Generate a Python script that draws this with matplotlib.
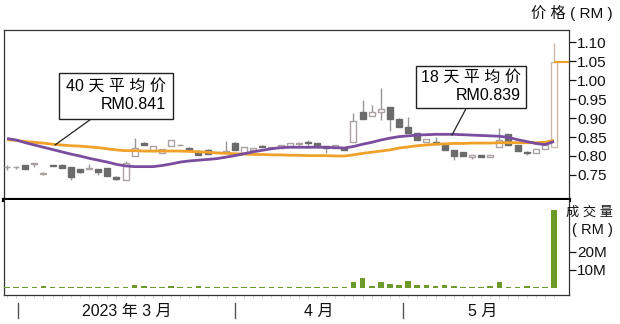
import matplotlib
matplotlib.use('Agg')
import matplotlib.pyplot as plt
import matplotlib.transforms as mtransforms
import numpy as np

plt.rcParams['font.family'] = ['Liberation Sans', 'Noto Sans CJK SC', 'DejaVu Sans']

# ---------------- data ----------------
opens = [0.770, 0.770, 0.775, 0.780, 0.753, 0.775, 0.776, 0.772, 0.766, 0.765,
         0.767, 0.769, 0.745, 0.736, 0.801, 0.833, 0.814, 0.807, 0.825, 0.829,
         0.822, 0.814, 0.816, 0.810, 0.810, 0.834, 0.808, 0.816, 0.827, 0.821,
         0.820, 0.825, 0.832, 0.838, 0.833, 0.826, 0.820, 0.822, 0.836, 0.917,
         0.906, 0.917, 0.928, 0.897, 0.877, 0.860, 0.838, 0.838, 0.829, 0.816,
         0.811, 0.797, 0.803, 0.797, 0.823, 0.857, 0.829, 0.811, 0.807, 0.818,
         0.824]
highs = [0.776, 0.774, 0.777, 0.782, 0.757, 0.776, 0.778, 0.772, 0.766, 0.778,
         0.767, 0.769, 0.747, 0.788, 0.847, 0.836, 0.826, 0.818, 0.842, 0.831,
         0.823, 0.816, 0.818, 0.811, 0.839, 0.836, 0.823, 0.822, 0.828, 0.823,
         0.829, 0.833, 0.838, 0.841, 0.833, 0.826, 0.829, 0.822, 0.912, 0.947,
         0.934, 0.978, 0.928, 0.900, 0.902, 0.860, 0.844, 0.850, 0.829, 0.816,
         0.811, 0.803, 0.803, 0.803, 0.874, 0.857, 0.829, 0.814, 0.818, 0.829,
         1.098]
lows = [0.763, 0.766, 0.765, 0.770, 0.749, 0.774, 0.768, 0.737, 0.756, 0.765,
        0.750, 0.748, 0.737, 0.736, 0.801, 0.829, 0.814, 0.807, 0.825, 0.829,
        0.816, 0.803, 0.805, 0.809, 0.808, 0.815, 0.808, 0.816, 0.823, 0.821,
        0.820, 0.825, 0.826, 0.820, 0.826, 0.808, 0.820, 0.816, 0.836, 0.897,
        0.906, 0.895, 0.865, 0.877, 0.860, 0.842, 0.838, 0.832, 0.816, 0.789,
        0.800, 0.793, 0.798, 0.797, 0.823, 0.829, 0.814, 0.803, 0.807, 0.818,
        0.824]
closes = [0.770, 0.771, 0.765, 0.782, 0.754, 0.774, 0.768, 0.745, 0.758, 0.769,
          0.758, 0.748, 0.740, 0.782, 0.820, 0.829, 0.826, 0.818, 0.842, 0.829,
          0.816, 0.803, 0.805, 0.810, 0.812, 0.815, 0.823, 0.822, 0.823, 0.823,
          0.829, 0.833, 0.833, 0.833, 0.826, 0.820, 0.829, 0.816, 0.893, 0.897,
          0.917, 0.924, 0.897, 0.877, 0.860, 0.842, 0.844, 0.832, 0.816, 0.800,
          0.800, 0.803, 0.798, 0.803, 0.842, 0.829, 0.814, 0.807, 0.818, 0.829,
          1.048]
ma18 = [0.846, 0.842, 0.835, 0.829, 0.823, 0.817, 0.811, 0.805, 0.800, 0.794,
        0.789, 0.784, 0.778, 0.774, 0.772, 0.772, 0.772, 0.775, 0.779, 0.784,
        0.787, 0.789, 0.791, 0.793, 0.797, 0.801, 0.806, 0.811, 0.815, 0.819,
        0.822, 0.823, 0.823, 0.823, 0.823, 0.823, 0.822, 0.821, 0.825, 0.831,
        0.836, 0.842, 0.847, 0.851, 0.853, 0.855, 0.856, 0.857, 0.857, 0.857,
        0.856, 0.855, 0.854, 0.853, 0.852, 0.849, 0.843, 0.838, 0.833, 0.830,
        0.838]
ma40 = [0.843, 0.841, 0.838, 0.836, 0.834, 0.831, 0.829, 0.827, 0.826, 0.824,
        0.822, 0.819, 0.816, 0.814, 0.814, 0.813, 0.813, 0.813, 0.813, 0.813,
        0.812, 0.811, 0.810, 0.808, 0.807, 0.806, 0.805, 0.804, 0.804, 0.803,
        0.803, 0.802, 0.802, 0.801, 0.801, 0.801, 0.800, 0.800, 0.803, 0.807,
        0.810, 0.813, 0.816, 0.821, 0.824, 0.827, 0.829, 0.831, 0.832, 0.833,
        0.833, 0.834, 0.834, 0.834, 0.835, 0.835, 0.835, 0.835, 0.835, 0.836,
        0.841]
volume_m = [0.6, 0.6, 0.6, 0.8, 1.1, 0.6, 0.6, 0.7, 0.6, 0.6,
            0.8, 0.8, 0.9, 0.8, 1.8, 1.1, 0.7, 0.8, 1.0, 0.7,
            0.8, 1.0, 0.9, 0.7, 0.8, 0.8, 0.9, 0.7, 0.8, 0.7,
            0.8, 0.7, 0.7, 0.8, 0.7, 0.7, 0.8, 0.9, 3.6, 5.6,
            1.1, 3.6, 2.4, 1.5, 4.2, 1.8, 1.5, 1.1, 1.6, 1.1,
            0.8, 0.7, 0.8, 1.1, 3.3, 0.9, 0.7, 1.1, 0.7, 0.7,
            43.0]
month_labels = ['2023 年 3 月', '4 月', '5 月']
month_starts = [1.2, 25.0, 43.4]
price_ticks = [0.75, 0.80, 0.85, 0.90, 0.95, 1.00, 1.05, 1.10]
vol_ticks = [10, 20]
ma18_label = '18 天 平 均 价\nRM0.839'
ma40_label = '40 天 平 均 价\nRM0.841'

# ---------------- style ----------------
W, H = 620, 324
fig = plt.figure(figsize=(W / 100, H / 100), dpi=100)
px = lambda v: v / W
py = lambda v: 1 - v / H

ax = fig.add_axes([px(4), py(200), px(569) - px(4), py(30) - py(200)])
axv = fig.add_axes([px(4), py(295), px(569) - px(4), py(200) - py(295)], sharex=ax)

UP_EDGE = '#aaa2a0'
LAST_EDGE = '#c9b8ae'
DOWN = '#6b6b6b'
WICK = '#9a9696'
ORANGE = '#f0a12a'
PURPLE = '#7a4d9f'
GREEN = '#6c9b2b'

x = np.arange(len(closes))
o = np.array(opens); c = np.array(closes); h = np.array(highs); l = np.array(lows)
up = c >= o
bw = 0.66

wick_colors = [WICK] * (len(x) - 1) + [LAST_EDGE]
ax.vlines(x, l, h, colors=wick_colors, lw=1.0, zorder=2)
body_b = np.minimum(o, c)
body_h = np.maximum(np.abs(c - o), 0.0012)
up_edges = [LAST_EDGE if i == len(x) - 1 else UP_EDGE for i in x[up]]
ax.bar(x[up], body_h[up], bottom=body_b[up], width=bw, facecolor='white',
       edgecolor=up_edges, linewidth=1.0, zorder=3)
ax.bar(x[~up], body_h[~up], bottom=body_b[~up], width=bw, facecolor=DOWN,
       edgecolor=DOWN, linewidth=1.0, zorder=3)

ax.plot(x, ma40, color=ORANGE, lw=2.0, zorder=4, solid_capstyle='butt')
ax.plot(x, ma18, color=PURPLE, lw=2.0, zorder=5, solid_capstyle='butt')

xmin, xmax = -0.33, 61.64
ax.set_xlim(xmin, xmax)
ax.set_ylim(0.6842, 1.1316)
ax.hlines(closes[-1], x[-1], xmax, color=ORANGE, lw=1.5, zorder=4)

ax.yaxis.tick_right()
ax.set_yticks(price_ticks)
ax.set_yticklabels([f'{t:.2f}' for t in price_ticks])
ax.tick_params(axis='y', direction='out', length=5, width=0.9, pad=1,
               labelsize=11, colors='#111111')
ax.tick_params(axis='x', bottom=False, labelbottom=False)
for s in ['left', 'top', 'right']:
    ax.spines[s].set_color('#333333'); ax.spines[s].set_linewidth(0.9)
ax.spines['bottom'].set_color('black'); ax.spines['bottom'].set_linewidth(3)

# annotations
ax.annotate(ma40_label, xy=(5.26, 0.829), xytext=(11.96, 0.958), textcoords='data',
            ha='center', va='center', multialignment='right', fontsize=11.5,
            linespacing=1.15, zorder=6,
            bbox=dict(boxstyle='square,pad=0.45', fc='white', ec='#222222', lw=1.0),
            arrowprops=dict(arrowstyle='-', color='#222222', lw=0.9,
                            relpos=(0.35, 0.0), shrinkA=0, shrinkB=0))
ax.annotate(ma18_label, xy=(48.8, 0.855), xytext=(50.9, 0.9816), textcoords='data',
            ha='center', va='center', multialignment='right', fontsize=11.5,
            linespacing=1.15, zorder=6,
            bbox=dict(boxstyle='square,pad=0.3', fc='white', ec='#222222', lw=1.0),
            arrowprops=dict(arrowstyle='-', color='#222222', lw=0.9,
                            relpos=(0.48, 0.0), shrinkA=0, shrinkB=0))

# volume
axv.bar(x, volume_m, width=0.62, color=GREEN, zorder=3)
axv.set_ylim(-3.7, 48.2)
axv.yaxis.tick_right()
axv.set_yticks(vol_ticks)
axv.set_yticklabels([f'{t}M' for t in vol_ticks])
axv.tick_params(axis='y', direction='out', length=5, width=0.9, pad=1,
                labelsize=11, colors='#111111')
axv.set_xticks([])
axv.set_xticks(x, minor=True)
axv.tick_params(axis='x', which='minor', direction='out', length=2, width=0.6,
                colors='#cfcfcf', labelbottom=False)
axv.tick_params(axis='x', which='major', bottom=False, labelbottom=False)
for s in ['left', 'bottom', 'right']:
    axv.spines[s].set_color('#333333'); axv.spines[s].set_linewidth(0.9)
axv.spines['top'].set_visible(False)

# month separators and labels
trans = mtransforms.blended_transform_factory(axv.transData, axv.transAxes)
bottom_frac = lambda ypix: (295 - ypix) / (295 - 200)
for m in month_starts:
    axv.plot([m, m], [bottom_frac(303), bottom_frac(318)], transform=trans,
             color='#555555', lw=1.0, clip_on=False)
bounds = month_starts + [xmax - 0.6]
for i, lab in enumerate(month_labels):
    axv.text((bounds[i] + bounds[i + 1]) / 2, bottom_frac(311), lab, transform=trans,
             ha='center', va='center', fontsize=11.5, color='#111111', clip_on=False)

fig.text(px(613), py(13), '价 格 ( RM )', ha='right', va='center', fontsize=11, color='#111111')
fig.text(px(613), py(213), '成 交 量', ha='right', va='center', fontsize=9.5, color='#111111')
fig.text(px(613), py(230), '( RM )', ha='right', va='center', fontsize=10.5, color='#111111')

fig.savefig('out.png', dpi=100)
